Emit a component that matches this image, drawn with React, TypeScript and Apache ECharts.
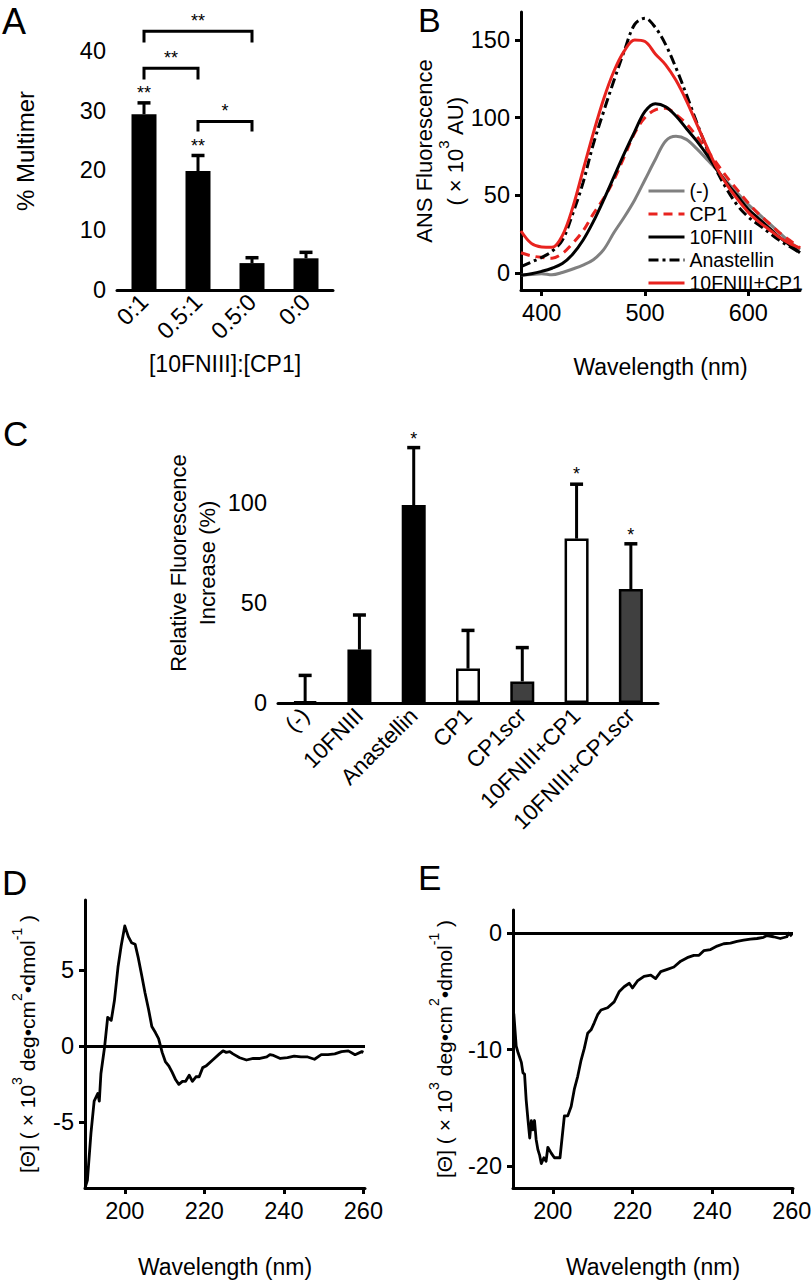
import React, { useEffect, useRef } from 'react';
import * as echarts from 'echarts';

const FONT = '"Liberation Sans", Arial, sans-serif';
const BLACK = '#000000';
const RED = '#e8231f';
const GRAY = '#808080';

// ---------- Panel A ----------
const catsA = ['0:1', '0.5:1', '0.5:0', '0:0'];
const meanA = [29.4, 19.9, 4.5, 5.3];
const errA = [31.3, 22.5, 5.4, 6.3];
const ticksA = [0, 10, 20, 30, 40];
const bracketFromA = [0, 0, 1];
const bracketToA = [1, 2, 2];
const bracketTopA = [37.1, 43.3, 28.2];
const bracketLegA = [35.2, 41.4, 26.5];
const bracketStarA = ['**', '**', '*'];
const barStarCatA = [0, 1];
const barStarYA = [33.6, 24.7];
const barStarA = ['**', '**'];

// ---------- Panel B ----------
const wlB = [380, 390, 400, 410, 420, 430, 440, 450, 460, 470, 480, 490, 500, 510, 520, 530, 540, 550, 560, 570, 580, 590, 600, 610, 620, 630, 640, 650];
const negB = [-1.5, -1, -0.5, -1.2, 0.3, 2.5, 5, 8.5, 15, 26, 36, 47, 60, 73, 85, 88, 86, 80, 73, 66, 58, 51, 44, 38, 32, 26, 20, 15];
const cp1B = [13, 11, 10, 9.5, 12.5, 19, 27, 38, 48, 60, 75, 90, 100, 105, 106, 102, 96, 88, 79, 70, 61, 53, 45, 38, 32, 26, 21, 16];
const fn3B = [-1.5, -0.5, 1, 3, 6, 12, 21, 33, 47, 62, 77, 91, 104, 109, 107, 101, 93, 85, 76, 66, 57, 49, 41, 35, 29, 23, 18, 13];
const anaB = [4, 7, 10, 14, 21, 38, 58, 83, 104, 124, 143, 160, 164, 158, 147, 132, 115, 97, 80, 65, 53, 43, 36, 31, 26, 21, 17, 13];
const fnCpB = [27, 19, 16.7, 16.5, 24, 42, 66, 90, 112, 130, 143, 150, 149, 141, 134, 124, 111, 96, 81, 67, 56, 47, 39, 33, 28, 23, 19, 16];
const namesB = ['(-)', 'CP1', '10FNIII', 'Anastellin', '10FNIII+CP1'];
const ticksBx = [400, 500, 600];
const ticksBy = [0, 50, 100, 150];

// ---------- Panel C ----------
const catsC = ['(-)', '10FNIII', 'Anastellin', 'CP1', 'CP1scr', '10FNIII+CP1', '10FNIII+CP1scr'];
const meanC = [0.8, 26.7, 99, 17.2, 10.8, 82.2, 57];
const errC = [13.8, 44, 127.7, 36.3, 27.7, 109.4, 79.6];
const fillC = ['#ffffff', '#000000', '#000000', '#ffffff', '#404040', '#ffffff', '#404040'];
const starCatC = [2, 5, 6];
const starYC = [134.2, 116.7, 85.8];
const ticksC = [0, 50, 100];

// ---------- Panel D ----------
const wlD = [190, 190.6, 191.5, 192.3, 193.2, 193.6, 194, 194.9, 195.7, 196.6, 197.4, 198.3, 199.1, 200, 200.9, 201.7, 202.6, 203.4, 204.3, 205.1, 206, 206.8, 207.7, 208.5, 209.4, 210.2, 211.1, 211.9, 212.8, 213.6, 214.5, 215.3, 216.2, 217, 217.9, 218.7, 219.6, 220.4, 222.1, 223.8, 224.7, 225.5, 226.4, 227.2, 228.9, 230.6, 232.3, 234, 235.7, 236.5, 237.4, 239.1, 240.9, 242.6, 244.3, 246, 247.7, 249.4, 251.1, 252.8, 254.5, 256.2, 257.9, 259.6, 260];
const cdD = [-9.3, -8.8, -5.7, -3.6, -3.1, -3.6, -1.8, -0.1, 1.9, 1.7, 3.0, 5.2, 6.6, 7.9, 7.2, 6.8, 6.7, 5.8, 4.6, 3.5, 2.4, 1.3, 0.9, 0.5, -0.4, -1, -1.3, -1.7, -2.2, -2.5, -2.3, -2.3, -1.9, -2.3, -2.0, -2.0, -1.4, -1.3, -0.9, -0.5, -0.3, -0.4, -0.35, -0.5, -0.75, -0.9, -0.8, -0.8, -0.7, -0.55, -0.6, -0.8, -0.75, -0.65, -0.7, -0.7, -0.85, -0.55, -0.55, -0.5, -0.35, -0.3, -0.55, -0.35, -0.4];
const ticksDx = [200, 220, 240, 260];
const ticksDy = [-5, 0, 5];

// ---------- Panel E ----------
const wlE = [190.2, 190.8, 191.3, 192.1, 192.5, 192.9, 193.3, 193.75, 194.2, 194.6, 195, 195.4, 195.8, 196.25, 196.7, 197.1, 197.75, 198.3, 198.75, 199.6, 200.4, 201.25, 201.8, 202.9, 203.75, 204.6, 205.4, 206.25, 207.1, 207.9, 208.75, 209.6, 210.4, 211.25, 212.1, 213.75, 215.4, 216.7, 217.9, 219.2, 220, 221.25, 222.9, 224.6, 225.8, 227.1, 228.75, 230.4, 232.1, 233.75, 235.4, 236.7, 237.9, 239.6, 241.25, 242.9, 244.6, 246.25, 247.9, 249.6, 251.25, 252.9, 253.75, 255.4, 257.1, 258.75, 259.2, 260];
const cdE = [-6.9, -9.7, -10.3, -11.1, -12, -12.1, -14.3, -16, -17.6, -16.1, -16.9, -16.1, -17.7, -18.6, -19.1, -19.8, -19.3, -19.6, -18.4, -18.9, -19.3, -19.3, -19.3, -15.7, -15.7, -14.9, -13.4, -12.3, -10.9, -9.9, -8.6, -8.3, -7.7, -7, -6.6, -6.4, -5.9, -5, -4.6, -4.3, -4.7, -4.1, -3.7, -3.6, -3.9, -3.3, -3.1, -2.9, -2.4, -2.1, -1.9, -1.9, -1.5, -1.4, -1.1, -0.9, -0.85, -0.7, -0.6, -0.5, -0.45, -0.35, -0.2, -0.3, -0.45, -0.3, 0, -0.25];
const ticksEy = [-20, -10, 0];

const axisLine = { onZero: false, lineStyle: { color: BLACK, width: 3 } };
const tickStyle = { length: 6, lineStyle: { color: BLACK, width: 3 } };
const lbl = { color: BLACK, fontFamily: FONT, fontSize: 23.5 };
const nameStyle = { color: BLACK, fontFamily: FONT, fontSize: 23 };

function valueAxis(gridIndex: number, min: number, max: number, ticks: number[], extra: any = {}) {
  return {
    type: 'value', gridIndex, min, max,
    axisLine, splitLine: { show: false },
    axisTick: { ...tickStyle, customValues: ticks },
    axisLabel: { ...lbl, customValues: ticks, margin: 11 },
    ...extra,
  };
}

function errorBars(axisIdx: number, means: number[], errs: number[], half: number) {
  return {
    type: 'custom', xAxisIndex: axisIdx, yAxisIndex: axisIdx, z: 5, silent: true,
    data: means.map((m, i) => [i, m, errs[i]]),
    renderItem: (params: any, api: any) => {
      const base = api.coord([api.value(0), api.value(1)]);
      const top = api.coord([api.value(0), api.value(2)]);
      return {
        type: 'group', children: [
          { type: 'line', shape: { x1: base[0], y1: base[1], x2: top[0], y2: top[1] }, style: { stroke: BLACK, lineWidth: 3 } },
          { type: 'line', shape: { x1: top[0] - half, y1: top[1], x2: top[0] + half, y2: top[1] }, style: { stroke: BLACK, lineWidth: 3.5 } },
        ],
      };
    },
  };
}

function stars(axisIdx: number, cats: number[], ys: number[], labels: string[]) {
  return {
    type: 'custom', xAxisIndex: axisIdx, yAxisIndex: axisIdx, z: 6, silent: true,
    data: cats.map((c, i) => [c, ys[i]]),
    renderItem: (params: any, api: any) => {
      const p = api.coord([api.value(0), api.value(1)]);
      return {
        type: 'text', x: p[0], y: p[1] + 4,
        style: { text: labels[params.dataIndex], fontSize: 18, fontFamily: FONT, fill: BLACK, align: 'center', verticalAlign: 'middle' },
      };
    },
  };
}

function lineSeries(name: string, xs: number[], ys: number[], color: string, type: any) {
  return {
    name, type: 'line', xAxisIndex: 1, yAxisIndex: 1, smooth: 0.35, symbol: 'none', showSymbol: false,
    data: xs.map((x, i) => [x, ys[i]]),
    lineStyle: { color, width: 3, type },
    itemStyle: { color },
    z: 3,
  };
}

const richName = {
  a: { fontFamily: FONT, fontSize: 21, color: BLACK, lineHeight: 28, verticalAlign: 'bottom' },
  s: { fontFamily: FONT, fontSize: 14, color: BLACK, lineHeight: 28, verticalAlign: 'top' },
};

function buildOption(): any {
  const gridBase = { containLabel: false, outerBoundsMode: 'none' };
  return {
    animation: false,
    textStyle: { fontFamily: FONT },
    grid: [
      { ...gridBase, left: 117, top: 12, width: 216, height: 278 },
      { ...gridBase, left: 521, top: 12, width: 279, height: 278 },
      { ...gridBase, left: 278, top: 423, width: 380, height: 280 },
      { ...gridBase, left: 85, top: 900, width: 280, height: 288 },
      { ...gridBase, left: 513, top: 910, width: 280, height: 278 },
    ],
    xAxis: [
      {
        type: 'category', gridIndex: 0, data: catsA, axisLine, axisTick: tickStyle,
        axisLabel: { ...lbl, rotate: 45, margin: 8, interval: 0 },
        name: '[10FNIII]:[CP1]', nameLocation: 'middle', nameGap: 62, nameTextStyle: nameStyle,
      },
      valueAxis(1, 380, 650, ticksBx, { name: 'Wavelength (nm)', nameLocation: 'middle', nameGap: 65, nameTextStyle: nameStyle }),
      {
        type: 'category', gridIndex: 2, data: catsC, axisLine, axisTick: tickStyle,
        axisLabel: { ...lbl, fontSize: 22.5, rotate: 45, margin: 9, interval: 0 },
      },
      valueAxis(3, 190, 260.4, ticksDx, { name: 'Wavelength (nm)', nameLocation: 'middle', nameGap: 67, nameTextStyle: nameStyle }),
      valueAxis(4, 190, 260.3, ticksDx, { name: 'Wavelength (nm)', nameLocation: 'middle', nameGap: 67, nameTextStyle: nameStyle }),
    ],
    yAxis: [
      valueAxis(0, 0, 46.5, ticksA, {
        name: '% Multimer', nameLocation: 'middle', nameRotate: 90, nameGap: 80,
        nameTextStyle: { ...nameStyle, fontSize: 24 },
      }),
      valueAxis(1, -11, 168, ticksBy, {
        name: '{a|ANS Fluorescence}\n{a|( × 10}{s|3}{a| AU)}', nameLocation: 'middle', nameRotate: 90, nameGap: 52,
        nameTextStyle: {
          ...nameStyle,
          rich: {
            a: { fontFamily: FONT, fontSize: 22, color: BLACK, lineHeight: 31, verticalAlign: 'bottom' },
            s: { fontFamily: FONT, fontSize: 15, color: BLACK, lineHeight: 31, verticalAlign: 'top' },
          },
        },
      }),
      valueAxis(2, 0, 140, ticksC, {
        name: 'Relative Fluorescence\nIncrease (%)', nameLocation: 'middle', nameRotate: 90, nameGap: 56,
        nameTextStyle: { ...nameStyle, fontSize: 22, lineHeight: 29 },
      }),
      valueAxis(3, -9.3, 9.6, ticksDy, {
        name: '{a|[Θ] ( × 10}{s|3}{a| deg•cm}{s|2}{a|•dmol}{s|-1}{a| )}', nameLocation: 'middle', nameRotate: 90, nameGap: 47,
        nameTextStyle: { ...nameStyle, rich: richName },
      }),
      valueAxis(4, -21.9, 2, ticksEy, {
        name: '{a|[Θ] ( × 10}{s|3}{a| deg•cm}{s|2}{a|•dmol}{s|-1}{a| )}', nameLocation: 'middle', nameRotate: 90, nameGap: 58,
        nameTextStyle: { ...nameStyle, rich: richName },
      }),
    ],
    legend: {
      data: namesB, left: 642, top: 176, orient: 'vertical',
      itemWidth: 36, itemHeight: 14, itemGap: 3,
      textStyle: { color: BLACK, fontFamily: FONT, fontSize: 19.5, fontWeight: 'normal' },
      lineStyle: { width: 3 },
      itemStyle: { opacity: 0 },
      selectedMode: false,
    },
    graphic: [
      { type: 'text', left: 2, top: 3, style: { text: 'A', fontSize: 36, fontFamily: FONT, fill: BLACK } },
      { type: 'text', left: 418, top: 3, style: { text: 'B', fontSize: 34, fontFamily: FONT, fill: BLACK } },
      { type: 'text', left: 3, top: 416, style: { text: 'C', fontSize: 35, fontFamily: FONT, fill: BLACK } },
      { type: 'text', left: 2, top: 865, style: { text: 'D', fontSize: 35, fontFamily: FONT, fill: BLACK } },
      { type: 'text', left: 418, top: 860, style: { text: 'E', fontSize: 35, fontFamily: FONT, fill: BLACK } },
    ],
    series: [
      // Panel A
      { type: 'bar', xAxisIndex: 0, yAxisIndex: 0, data: meanA, barWidth: 25, itemStyle: { color: BLACK }, silent: true },
      errorBars(0, meanA, errA, 6.5),
      {
        type: 'custom', xAxisIndex: 0, yAxisIndex: 0, z: 6, silent: true,
        data: bracketFromA.map((f, i) => [f, bracketTopA[i], bracketToA[i], bracketLegA[i]]),
        renderItem: (params: any, api: any) => {
          const a = api.coord([api.value(0), api.value(1)]);
          const b = api.coord([api.value(2), api.value(1)]);
          const la = api.coord([api.value(0), api.value(3)]);
          const lb = api.coord([api.value(2), api.value(3)]);
          return {
            type: 'group', children: [
              { type: 'polyline', shape: { points: [[la[0], la[1]], [a[0], a[1]], [b[0], b[1]], [lb[0], lb[1]]] }, style: { stroke: BLACK, lineWidth: 3, fill: 'none' } },
              { type: 'text', x: (a[0] + b[0]) / 2, y: a[1] - 10, style: { text: bracketStarA[params.dataIndex], fontSize: 18, fontFamily: FONT, fill: BLACK, align: 'center', verticalAlign: 'middle' } },
            ],
          };
        },
      },
      stars(0, barStarCatA, barStarYA, barStarA),
      // Panel B
      lineSeries(namesB[0], wlB, negB, GRAY, 'solid'),
      lineSeries(namesB[1], wlB, cp1B, RED, [9, 6]),
      lineSeries(namesB[2], wlB, fn3B, BLACK, 'solid'),
      lineSeries(namesB[3], wlB, anaB, BLACK, [10, 4, 3, 4]),
      lineSeries(namesB[4], wlB, fnCpB, RED, 'solid'),
      // Panel C
      {
        type: 'bar', xAxisIndex: 2, yAxisIndex: 2, barWidth: 24, silent: true,
        data: meanC.map((v, i) => ({ value: v, itemStyle: { color: fillC[i] } })),
        itemStyle: { borderColor: BLACK, borderWidth: 2.5 },
      },
      errorBars(2, meanC, errC, 6.5),
      stars(2, starCatC, starYC, starCatC.map(() => '*')),
      // Panel D
      {
        type: 'line', xAxisIndex: 3, yAxisIndex: 3, symbol: 'none', silent: true,
        data: wlD.map((x, i) => [x, cdD[i]]),
        lineStyle: { color: BLACK, width: 2.8, join: 'round' },
        markLine: { silent: true, symbol: ['none', 'none'], label: { show: false }, lineStyle: { color: BLACK, width: 3, type: 'solid' }, data: [{ yAxis: 0 }] },
      },
      // Panel E
      {
        type: 'line', xAxisIndex: 4, yAxisIndex: 4, symbol: 'none', silent: true,
        data: wlE.map((x, i) => [x, cdE[i]]),
        lineStyle: { color: BLACK, width: 2.8, join: 'round' },
        markLine: { silent: true, symbol: ['none', 'none'], label: { show: false }, lineStyle: { color: BLACK, width: 3, type: 'solid' }, data: [{ yAxis: 0 }] },
      },
    ],
  };
}

export default function App() {
  const ref = useRef<HTMLDivElement>(null);
  useEffect(() => {
    document.body.style.margin = '0';
    const chart = echarts.init(ref.current as HTMLDivElement, null, { renderer: 'svg' });
    chart.setOption(buildOption());
    return () => chart.dispose();
  }, []);
  return <div ref={ref} style={{ width: 812, height: 1280, background: '#ffffff' }} />;
}
